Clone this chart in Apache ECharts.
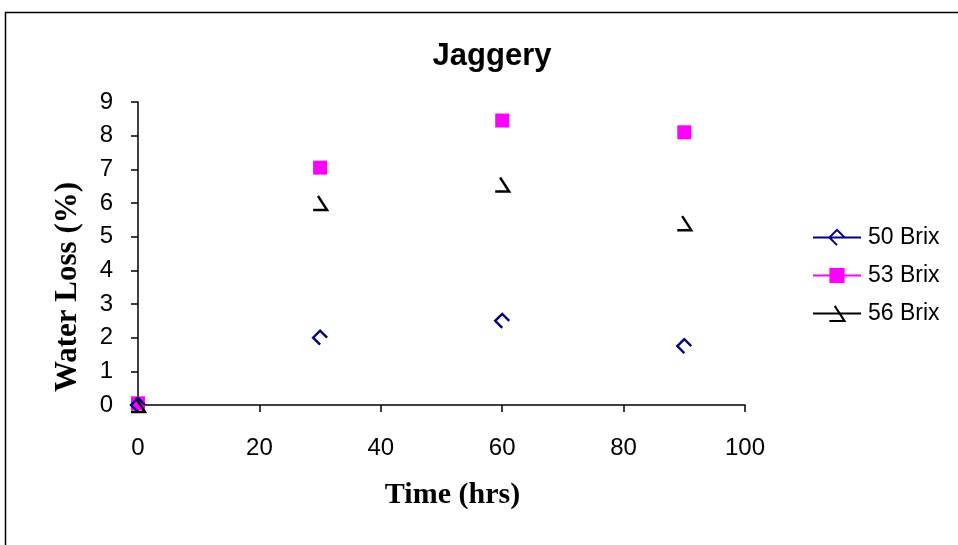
<!DOCTYPE html>
<html>
<head>
<meta charset="utf-8">
<script src="https://cdn.jsdelivr.net/npm/echarts@6/dist/echarts.min.js"></script>
<style>
  html, body { margin: 0; padding: 0; background: #fff; }
  #chart { width: 958px; height: 545px; }
</style>
</head>
<body>
<div id="chart"></div>
<script>
// time in hours
const timeHrs = [0, 30, 60, 90];
// water loss (%) per syrup strength
const brix50 = [0, 2.0, 2.5, 1.75];
const brix53 = [0.05, 7.05, 8.45, 8.1];
const brix56 = [0, 6.0, 6.55, 5.4];
const seriesNames = ['50 Brix', '53 Brix', '56 Brix'];
const xTicks = [0, 20, 40, 60, 80, 100];
const yTicks = [0, 1, 2, 3, 4, 5, 6, 7, 8, 9];

// open marker shapes, stroke only
const halfDiamond = 'path://M10,5L5,0L0,5L5,10';
const openTriangle = 'path://M3.5,0L10,10L0,10';

function pairs(ys) {
    return ys.map((y, i) => [timeHrs[i], y]);
}

const chart = echarts.init(document.getElementById('chart'), null, { renderer: 'canvas' });

const option = {
    backgroundColor: '#ffffff',
    animation: false,
    title: {
        text: 'Jaggery',
        left: 487,
        textAlign: 'center',
        top: 36,
        textStyle: {
            fontFamily: 'Liberation Sans',
            fontWeight: 'bold',
            fontSize: 31,
            color: '#000'
        }
    },
    grid: {
        left: 138,
        top: 102,
        right: 213,
        bottom: 140,
        containLabel: false
    },
    legend: {
        orient: 'vertical',
        left: 812,
        top: 226,
        padding: 0,
        itemWidth: 48,
        itemHeight: 19,
        itemGap: 15,
        textStyle: {
            fontFamily: 'Liberation Sans',
            fontSize: 23,
            color: '#000',
            padding: [0, 0, 0, 2]
        },
        data: seriesNames.map(n => ({ name: n, lineStyle: { opacity: 1, width: 2 } }))
    },
    xAxis: {
        type: 'value',
        min: 0,
        max: 100,
        interval: 20,
        name: 'Time (hrs)',
        nameLocation: 'middle',
        nameGap: 75,
        nameTextStyle: {
            fontFamily: 'Liberation Serif',
            fontWeight: 'bold',
            fontSize: 30,
            color: '#000',
            padding: [0, 0, 0, 22]
        },
        axisLine: { show: true, lineStyle: { color: '#000', width: 1.5 } },
        axisTick: { show: true, inside: false, length: 7, lineStyle: { color: '#000', width: 1.5 } },
        axisLabel: {
            margin: 31,
            fontFamily: 'Liberation Sans',
            fontSize: 24,
            color: '#000',
            formatter: v => (xTicks.indexOf(v) >= 0 ? String(v) : '')
        },
        splitLine: { show: false }
    },
    yAxis: {
        type: 'value',
        min: 0,
        max: 9,
        interval: 1,
        axisLine: { show: true, lineStyle: { color: '#000', width: 1.5 } },
        axisTick: { show: true, inside: false, length: 7, lineStyle: { color: '#000', width: 1.5 } },
        axisLabel: {
            margin: 25,
            fontFamily: 'Liberation Sans',
            fontSize: 24,
            color: '#000',
            formatter: v => (yTicks.indexOf(v) >= 0 ? String(v) : '')
        },
        splitLine: { show: false }
    },
    graphic: [
        {
            type: 'rect',
            shape: { x: 5.5, y: 12.5, width: 1000, height: 600 },
            style: { fill: 'none', stroke: '#000', lineWidth: 1.5 },
            silent: true,
            z: -1
        },
        {
            type: 'text',
            x: 68,
            y: 287,
            rotation: Math.PI / 2,
            style: {
                text: 'Water Loss (%)',
                fontFamily: 'Liberation Serif',
                fontWeight: 'bold',
                fontSize: 31,
                fill: '#000',
                align: 'center',
                verticalAlign: 'middle'
            }
        }
    ],
    series: [
        {
            name: seriesNames[0],
            type: 'line',
            data: pairs(brix50),
            symbol: halfDiamond,
            symbolSize: 14,
            showAllSymbol: true,
            lineStyle: { color: '#000080', width: 0, opacity: 0 },
            itemStyle: { color: 'none', borderColor: '#000080', borderWidth: 2.4 },
            z: 3
        },
        {
            name: seriesNames[1],
            type: 'line',
            data: pairs(brix53),
            symbol: 'rect',
            symbolSize: [14, 14],
            showAllSymbol: true,
            lineStyle: { color: '#ff00ff', width: 0, opacity: 0 },
            itemStyle: { color: '#ff00ff' },
            z: 2
        },
        {
            name: seriesNames[2],
            type: 'line',
            data: pairs(brix56),
            symbol: openTriangle,
            symbolSize: [14, 14],
            showAllSymbol: true,
            lineStyle: { color: '#000', width: 0, opacity: 0 },
            itemStyle: { color: 'none', borderColor: '#000', borderWidth: 2.4 },
            z: 4
        }
    ]
};

chart.setOption(option);
</script>
</body>
</html>
